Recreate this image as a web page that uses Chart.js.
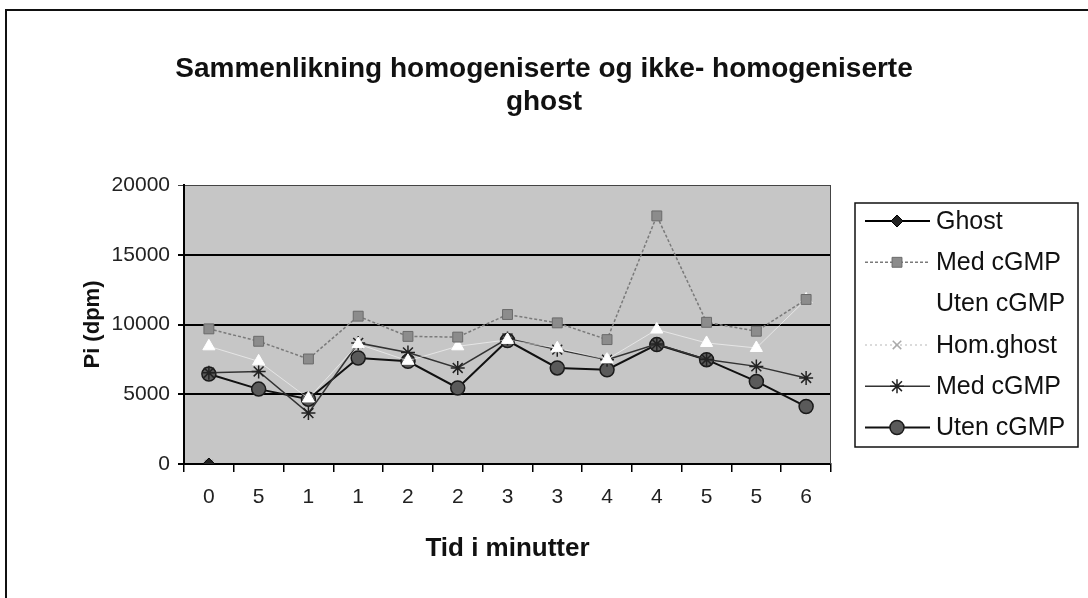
<!DOCTYPE html>
<html>
<head>
<meta charset="utf-8">
<script src="https://cdn.jsdelivr.net/npm/chart.js@4.4.0/dist/chart.umd.min.js"></script>
<style>
  html, body { margin: 0; padding: 0; background: #fff; }
</style>
</head>
<body>
<canvas id="grafico" width="1088" height="598"></canvas>
<script>
// Data lest av figuren
const tider = ["0", "5", "1", "1", "2", "2", "3", "3", "4", "4", "5", "5", "6"];
const yTicks = [0, 5000, 10000, 15000, 20000];
const ghost = [0, null, null, null, null, null, null, null, null, null, null, null, null];
const medCgmp = [9690, 8800, 7530, 10600, 9150, 9100, 10720, 10120, 8920, 17790, 10160, 9520, 11800];
const utenCgmp = [8440, 7360, 4700, 8600, 7400, 8440, 8900, 8300, 7500, 9640, 8680, 8320, 11800];
const homGhost = [0, null, null, null, null, null, null, null, null, null, null, null, null];
const homMedCgmp = [6550, 6640, 3650, 8680, 8000, 6890, 9000, 8200, 7480, 8600, 7500, 7000, 6170];
const homUtenCgmp = [6450, 5370, 4650, 7600, 7360, 5450, 8850, 6890, 6760, 8560, 7480, 5920, 4120];

// Plugin: bakgrunn, ramme og forklaring
const ramme = {
  id: "ramme",
  beforeDraw(chart) {
    const { ctx, chartArea: a } = chart;
    ctx.save();
    ctx.fillStyle = "#fff";
    ctx.fillRect(0, 0, chart.width, chart.height);
    ctx.fillStyle = "#c6c6c6";
    ctx.fillRect(a.left, a.top, a.right - a.left, a.bottom - a.top);
    ctx.restore();
  },
  afterDraw(chart) {
    const { ctx, chartArea: a } = chart;
    ctx.save();
    // ytre ramme
    ctx.strokeStyle = "#111";
    ctx.lineWidth = 2;
    ctx.beginPath();
    ctx.moveTo(6, 598);
    ctx.lineTo(6, 10);
    ctx.lineTo(1088, 10);
    ctx.stroke();
    // plottramme høyre
    ctx.lineWidth = 1;
    ctx.strokeStyle = "#444";
    ctx.beginPath();
    ctx.moveTo(a.right - 0.5, a.top);
    ctx.lineTo(a.right - 0.5, a.bottom);
    ctx.stroke();

    // forklaring
    ctx.fillStyle = "#fff";
    ctx.fillRect(855, 203, 223, 244);
    ctx.strokeStyle = "#111";
    ctx.lineWidth = 1.5;
    ctx.strokeRect(855, 203, 223, 244);
    ctx.font = "25px Arial";
    ctx.textBaseline = "middle";
    chart.data.datasets.forEach((ds, i) => {
      const y = 221 + i * 41.3;
      ctx.save();
      ctx.strokeStyle = ds.borderColor;
      ctx.lineWidth = ds.borderWidth;
      ctx.setLineDash(ds.borderDash || []);
      ctx.beginPath();
      ctx.moveTo(865, y);
      ctx.lineTo(930, y);
      ctx.stroke();
      ctx.setLineDash([]);
      ctx.fillStyle = ds.pointBackgroundColor;
      ctx.strokeStyle = ds.pointBorderColor;
      ctx.lineWidth = ds.pointBorderWidth;
      Chart.helpers.drawPoint(ctx, { pointStyle: ds.pointStyle, radius: ds.pointRadius, borderWidth: ds.pointBorderWidth, rotation: 0 }, 897, y);
      ctx.restore();
      ctx.fillStyle = "#111";
      ctx.fillText(ds.label, 936, y + 1);
    });
    ctx.restore();
  }
};

const ctx = document.getElementById("grafico").getContext("2d");
new Chart(ctx, {
  type: "line",
  data: {
    labels: tider,
    datasets: [
      { label: "Ghost", data: ghost, borderColor: "#000", borderWidth: 2,
        pointStyle: "rectRot", pointRadius: 6, pointBackgroundColor: "#222", pointBorderColor: "#000", pointBorderWidth: 1 },
      { label: "Med cGMP", data: medCgmp, borderColor: "#7a7a7a", borderWidth: 1.5, borderDash: [3, 2],
        pointStyle: "rect", pointRadius: 7, pointBackgroundColor: "#8c8c8c", pointBorderColor: "#6a6a6a", pointBorderWidth: 1 },
      { label: "Uten cGMP", data: utenCgmp, borderColor: "rgba(255,255,255,0.55)", borderWidth: 1,
        pointStyle: "triangle", pointRadius: 7, pointBackgroundColor: "#fff", pointBorderColor: "#fff", pointBorderWidth: 1 },
      { label: "Hom.ghost", data: homGhost, borderColor: "#cfcfcf", borderWidth: 1.5, borderDash: [2, 3],
        pointStyle: "crossRot", pointRadius: 6, pointBackgroundColor: "#bbb", pointBorderColor: "#aaa", pointBorderWidth: 1.5 },
      { label: "Med cGMP", data: homMedCgmp, borderColor: "#333", borderWidth: 1.5,
        pointStyle: "star", pointRadius: 7, pointBackgroundColor: "#333", pointBorderColor: "#222", pointBorderWidth: 1.5 },
      { label: "Uten cGMP", data: homUtenCgmp, borderColor: "#111", borderWidth: 2,
        pointStyle: "circle", pointRadius: 7, pointBackgroundColor: "#5a5a5a", pointBorderColor: "#1a1a1a", pointBorderWidth: 1.5 }
    ]
  },
  options: {
    responsive: false,
    animation: false,
    devicePixelRatio: 1,
    layout: { padding: 0 },
    plugins: {
      legend: { display: false },
      tooltip: { enabled: false },
      title: {
        display: true,
        text: ["Sammenlikning homogeniserte og ikke- homogeniserte", "ghost"],
        color: "#111",
        font: { family: "Arial", size: 28, weight: "bold", lineHeight: 1.18 },
        padding: { top: 53, bottom: 66 }
      }
    },
    scales: {
      x: {
        offset: true,
        afterFit: s => { s.height = 134; },
        grid: { offset: true, drawOnChartArea: false, drawTicks: true, tickLength: 8, color: "#000", lineWidth: 1.5 },
        border: { color: "#000", width: 2 },
        ticks: { color: "#222", font: { family: "Arial", size: 21 }, padding: 13, maxRotation: 0, autoSkip: false },
        title: { display: true, text: "Tid i minutter", color: "#111",
          font: { family: "Arial", size: 26, weight: "bold" }, padding: { top: 0, bottom: 34 } }
      },
      y: {
        min: 0,
        max: 20000,
        afterFit: s => { s.width = 184; },
        afterBuildTicks: s => { s.ticks = yTicks.map(v => ({ value: v })); },
        grid: {
          color: c => (c.tick && c.tick.value === 20000 ? "#444" : "#000"),
          lineWidth: c => (c.tick && c.tick.value === 20000 ? 1 : 2),
          tickLength: 6
        },
        border: { color: "#000", width: 2 },
        ticks: { color: "#222", font: { family: "Arial", size: 21 }, padding: 8, callback: v => String(v) },
        title: { display: true, text: "Pi (dpm)", color: "#111",
          font: { family: "Arial", size: 22, weight: "bold" }, padding: { top: 80, bottom: 0 } }
      },
      hoyre: {
        type: "linear",
        position: "right",
        display: true,
        afterFit: s => { s.width = 257; },
        grid: { display: false },
        border: { display: false },
        ticks: { display: false }
      }
    }
  },
  plugins: [ramme]
});
</script>
</body>
</html>
